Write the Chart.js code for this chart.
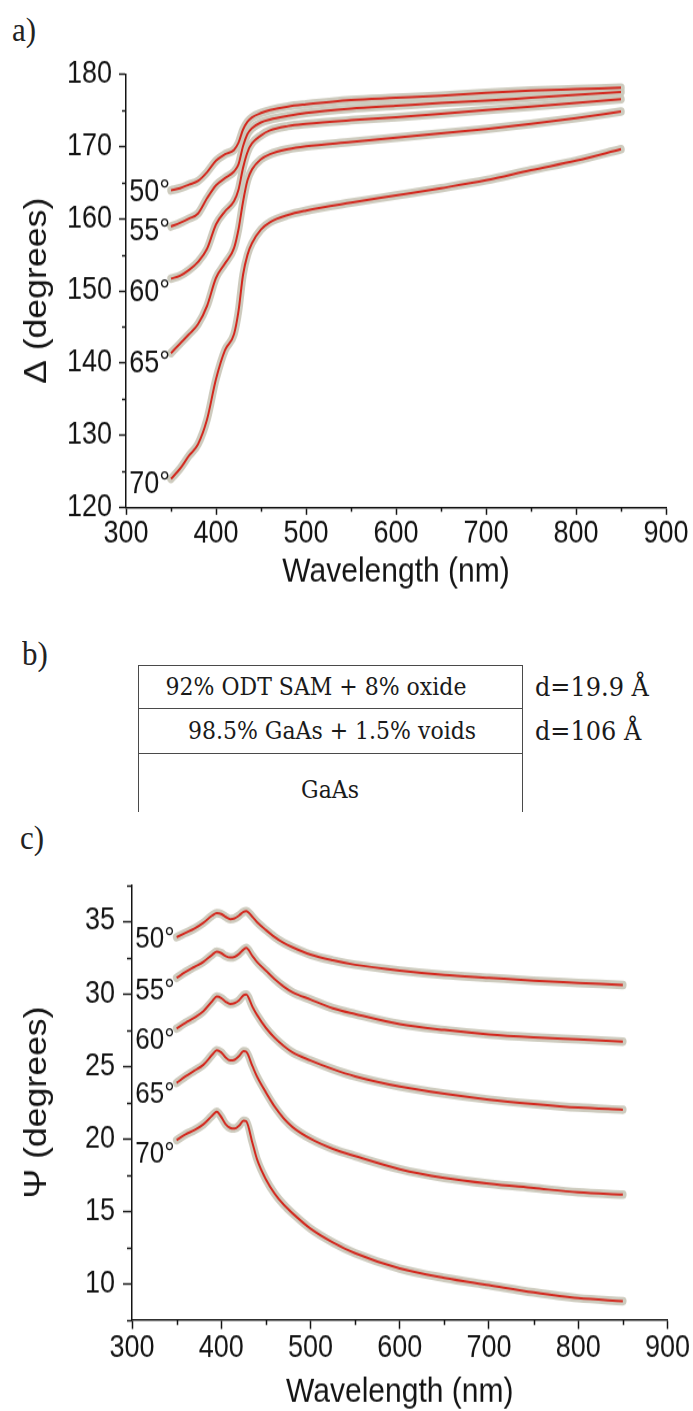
<!DOCTYPE html>
<html>
<head>
<meta charset="utf-8">
<title>Ellipsometry: Delta and Psi vs wavelength</title>
<script src="https://cdn.jsdelivr.net/npm/chart.js"></script>
<style>
  body { margin: 0; background: #fff; }
  #page { position: relative; width: 693px; height: 1411px; overflow: hidden; background: #fff; }
  canvas { position: absolute; left: 0; }
  .tag { position: absolute; font-family: 'Liberation Serif', 'Times New Roman', serif; font-size: 31px; color: #222; line-height: 1; transform: scaleY(1.12); transform-origin: top left; }
  .stack { position: absolute; left: 138px; top: 665px; width: 385px; height: 147px; border: 1.5px solid #4a4a4a; border-bottom: none; box-sizing: border-box; }
  .rule { position: absolute; left: 0; right: 0; border-top: 1.5px solid #4a4a4a; }
  .cell, .thick { position: absolute; font-family: 'DejaVu Serif', serif; color: #1a1a1a; white-space: nowrap; line-height: 1; }
  .cell { font-size: 22px; transform: translate(-50%, -50%) scaleY(1.12); }
  .thick { font-size: 24px; transform: translateY(-50%) scaleY(1.1); }
</style>
</head>
<body>
<div id="page">
  <span class="tag" style="left:12px; top:12px;">a)</span>
  <canvas id="delta" width="693" height="522" style="top:0; width:693px; height:600px;"></canvas>

  <span class="tag" style="left:22px; top:636px;">b)</span>
  <div class="stack">
    <div class="rule" style="top:42px;"></div>
    <div class="rule" style="top:87px;"></div>
  </div>
  <span class="cell" style="left:316px; top:687px;">92% ODT SAM + 8% oxide</span>
  <span class="cell" style="left:332px; top:731px;">98.5% GaAs + 1.5% voids</span>
  <span class="cell" style="left:330px; top:790px;">GaAs</span>
  <span class="thick" style="left:535px; top:687px;">d=19.9 Å</span>
  <span class="thick" style="left:535px; top:731px;">d=106 Å</span>

  <span class="tag" style="left:20px; top:820px;">c)</span>
  <canvas id="psi" width="693" height="514" style="top:820px; width:693px; height:591px;"></canvas>
</div>

<script>
// ---- data ----
const angles = ['50°', '55°', '60°', '65°', '70°'];

// panel a: Delta (degrees)
const wlDelta = [350, 360, 370, 380, 390, 400, 410, 420, 425, 430, 435, 440, 450, 460, 480, 500, 550, 600, 650, 700, 750, 800, 850];
const delta50 = [163.9, 164.2, 164.7, 165.2, 166.4, 168.0, 168.9, 169.5, 170.5, 172.3, 173.4, 174.0, 174.6, 175.0, 175.5, 175.8, 176.4, 176.7, 177.0, 177.4, 177.7, 177.9, 178.1];
const delta55 = [158.9, 159.4, 160.0, 160.7, 162.8, 164.6, 165.6, 166.5, 167.5, 170.0, 171.7, 172.5, 173.3, 173.7, 174.2, 174.6, 175.2, 175.6, 176.0, 176.3, 176.7, 177.1, 177.5];
const delta60 = [151.7, 152.1, 152.9, 154.0, 155.8, 159.2, 161.0, 162.4, 164.0, 167.0, 169.2, 170.4, 171.5, 172.2, 172.8, 173.1, 173.6, 174.0, 174.5, 175.0, 175.5, 176.0, 176.5];
const delta65 = [141.4, 142.7, 144.0, 145.4, 147.9, 151.8, 153.8, 155.9, 158.5, 162.3, 165.3, 166.8, 168.2, 168.9, 169.6, 170.0, 170.6, 171.2, 171.8, 172.4, 173.1, 173.9, 174.8];
const delta70 = [124.0, 125.4, 127.2, 128.8, 132.2, 137.8, 141.8, 144.0, 147.2, 152.2, 155.0, 156.6, 158.5, 159.5, 160.5, 161.1, 162.2, 163.2, 164.2, 165.3, 166.7, 168.0, 169.6];
const deltaLabelAt = [163.55, 158.2, 149.8, 139.9, 123.2];

// panel c: Psi (degrees)
const wlPsi = [350, 360, 370, 380, 390, 395, 400, 405, 410, 415, 420, 425, 428, 435, 440, 450, 460, 470, 480, 500, 525, 550, 600, 650, 700, 750, 800, 850];
const psi50 = [33.9, 34.2, 34.5, 34.9, 35.4, 35.55, 35.5, 35.3, 35.15, 35.2, 35.4, 35.65, 35.7, 35.3, 34.95, 34.4, 33.9, 33.5, 33.2, 32.7, 32.3, 32.0, 31.6, 31.3, 31.1, 30.9, 30.75, 30.6];
const psi55 = [31.1, 31.5, 31.85, 32.2, 32.7, 32.9, 32.8, 32.6, 32.5, 32.55, 32.75, 33.05, 33.15, 32.6, 32.2, 31.6, 31.0, 30.5, 30.1, 29.6, 29.0, 28.6, 27.9, 27.5, 27.2, 27.0, 26.85, 26.7];
const psi60 = [27.6, 28.0, 28.35, 28.8, 29.5, 29.8, 29.7, 29.45, 29.3, 29.35, 29.55, 29.9, 29.95, 29.1, 28.55, 27.65, 26.95, 26.4, 25.95, 25.4, 24.8, 24.3, 23.6, 23.1, 22.7, 22.4, 22.15, 22.0];
const psi65 = [23.85, 24.3, 24.7, 25.1, 25.8, 26.1, 25.95, 25.6, 25.4, 25.45, 25.7, 26.05, 26.0, 25.0, 24.3, 23.2, 22.2, 21.4, 20.8, 20.0, 19.3, 18.8, 17.9, 17.3, 16.9, 16.6, 16.3, 16.15];
const psi70 = [19.9, 20.3, 20.6, 21.0, 21.6, 21.85, 21.5, 21.0, 20.75, 20.7, 20.9, 21.25, 21.2, 19.7, 18.6, 17.2, 16.2, 15.45, 14.85, 13.8, 12.85, 12.1, 11.05, 10.4, 9.9, 9.4, 9.0, 8.8];
const psiLabelAt = [33.73, 30.2, 26.74, 23.07, 18.9];

// ---- styling ----
const INK = '#141414';
const HALO = 'rgba(202, 200, 187, 0.95)';
const FIT = '#d3271d';
const SANS = "'Liberation Sans', Arial, sans-serif";
const S = 1.15; // the scanned figure is stretched vertically; canvases are drawn short and shown tall

// minor ticks + angle labels next to the curve starts
function extras(labelAt, o) {
    return {
        id: 'extras',
        afterDraw(chart) {
            const ctx = chart.ctx;
            const xs = chart.scales.x, ys = chart.scales.y;
            ctx.save();
            ctx.strokeStyle = INK;
            ctx.lineWidth = 1.5;
            ctx.beginPath();
            xs.ticks.forEach(t => {
                if (t.value % o.xMajor !== 0) {
                    const px = Math.round(xs.getPixelForValue(t.value)) + 0.5;
                    ctx.moveTo(px, xs.top);
                    ctx.lineTo(px, xs.top + o.xMinorLen);
                }
            });
            ys.ticks.forEach(t => {
                if (t.value % o.yMajor !== 0) {
                    const py = Math.round(ys.getPixelForValue(t.value)) + 0.5;
                    ctx.moveTo(ys.right, py);
                    ctx.lineTo(ys.right - o.yMinorLen, py);
                }
            });
            ctx.stroke();

            ctx.fillStyle = INK;
            ctx.font = o.labelSize + 'px ' + SANS;
            ctx.textAlign = 'right';
            ctx.textBaseline = 'middle';
            angles.forEach((txt, i) => {
                ctx.fillText(txt, xs.getPixelForValue(350) + o.labelDx, ys.getPixelForValue(labelAt[i]));
            });
            ctx.restore();
        }
    };
}

function makeChart(id, wl, series, labelAt, cfg) {
    const datasets = [];
    // grey band = measured points, red = model fit; lower "order" is drawn on top
    series.forEach(vals => {
        datasets.push({
            data: wl.map((w, i) => ({ x: w, y: vals[i] })),
            order: 2,
            borderColor: HALO, borderWidth: 7.5, borderCapStyle: 'round',
            pointRadius: 0, cubicInterpolationMode: 'monotone'
        });
        datasets.push({
            data: wl.map((w, i) => ({ x: w, y: vals[i] })),
            order: 1,
            borderColor: FIT, borderWidth: 2,
            pointRadius: 0, cubicInterpolationMode: 'monotone'
        });
    });

    return new Chart(document.getElementById(id), {
        type: 'line',
        data: { datasets: datasets },
        plugins: [extras(labelAt, cfg)],
        options: {
            responsive: false,
            animation: false,
            events: [],
            layout: { padding: { left: 0, right: cfg.padRight, top: cfg.padTop, bottom: 0 } },
            plugins: { legend: { display: false }, tooltip: { enabled: false } },
            scales: {
                x: {
                    type: 'linear', min: 300, max: 900,
                    afterFit: s => { s.height = cfg.xHeight; },
                    border: { color: INK, width: 1.5 },
                    grid: {
                        drawOnChartArea: false, tickLength: cfg.xTickLen, tickWidth: 1.5,
                        tickColor: c => (c.tick && c.tick.value % 100 === 0) ? INK : 'rgba(0,0,0,0)'
                    },
                    ticks: {
                        stepSize: 50, autoSkip: false, maxRotation: 0, padding: 3, color: INK,
                        font: { family: SANS, size: 27, lineHeight: 1 },
                        callback: v => v % 100 === 0 ? v : ''
                    },
                    title: {
                        display: true, text: 'Wavelength (nm)', color: INK,
                        font: { family: SANS, size: 30, lineHeight: 1.1 },
                        padding: { top: 0, bottom: cfg.xTitlePad }
                    }
                },
                y: {
                    min: cfg.yMin, max: cfg.yMax,
                    afterFit: s => { s.width = cfg.yWidth; },
                    border: { color: INK, width: 1.5 },
                    grid: {
                        drawOnChartArea: false, tickLength: cfg.yTickLen, tickWidth: 1.5,
                        tickColor: c => (c.tick && c.tick.value % cfg.yMajor === 0) ? INK : 'rgba(0,0,0,0)'
                    },
                    ticks: {
                        stepSize: cfg.yStep, autoSkip: false, padding: cfg.yTickPad, color: INK,
                        font: { family: SANS, size: 27, lineHeight: 1 },
                        callback: v => v % cfg.yMajor === 0 ? v : ''
                    },
                    title: {
                        display: true, text: cfg.yTitle, color: INK,
                        font: { family: SANS, size: 31, lineHeight: 1.2 },
                        padding: { top: 19, bottom: 0 }
                    }
                }
            }
        }
    });
}

// panel a
makeChart('delta', wlDelta, [delta50, delta55, delta60, delta65, delta70], deltaLabelAt, {
    yMin: 120, yMax: 180, yStep: 5, yMajor: 10, yTitle: 'Δ (degrees)',
    padTop: 74 / S, padRight: 27, yWidth: 126, xHeight: 522 - 508 / S,
    xTickLen: 7 / S, yTickLen: 7, yTickPad: 7, xTitlePad: 8,
    xMajor: 100, yMinorLen: 4, xMinorLen: 4 / S, labelSize: 27, labelDx: -1
});

// panel c
makeChart('psi', wlPsi, [psi50, psi55, psi60, psi65, psi70], psiLabelAt, {
    yMin: 7.5, yMax: 37.5, yStep: 2.5, yMajor: 5, yTitle: 'Ψ (degrees)',
    padTop: 65 / S, padRight: 22, yWidth: 132, xHeight: 514 - 500 / S,
    xTickLen: 9 / S, yTickLen: 9, yTickPad: 8, xTitlePad: 0,
    xMajor: 100, yMinorLen: 5, xMinorLen: 5 / S, labelSize: 26, labelDx: -2
});
</script>
</body>
</html>
